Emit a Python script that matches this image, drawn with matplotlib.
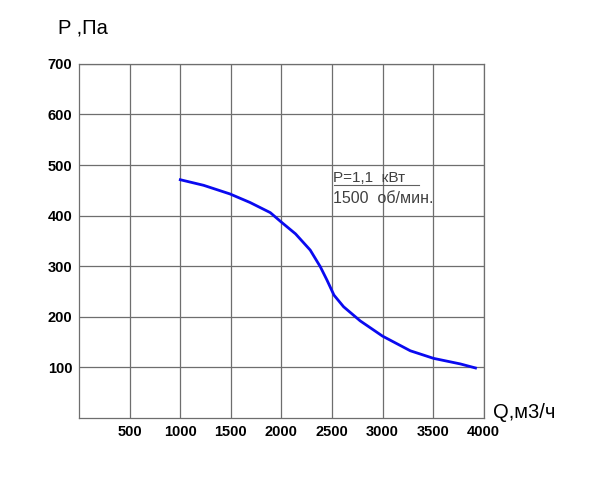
import matplotlib
matplotlib.use("Agg")
import matplotlib.pyplot as plt

# fan curve
q = [1000, 1230, 1490, 1690, 1890, 1995, 2140, 2285, 2385, 2450, 2520, 2615, 2780, 3000, 3275, 3505, 3770, 3920]
p = [471, 460, 443, 426, 406, 388, 364, 332, 299, 273, 243, 220, 192, 162, 133, 118, 107, 99]

xticks = [500, 1000, 1500, 2000, 2500, 3000, 3500, 4000]
yticks = [100, 200, 300, 400, 500, 600, 700]

plt.rcParams['font.family'] = ['Liberation Sans', 'DejaVu Sans']

fig = plt.figure(figsize=(6, 4.8), dpi=100)
ax = fig.add_axes([0.132, 0.129, 0.674, 0.738])

ax.plot(q, p, color="#0a0af0", lw=2, solid_joinstyle="round")

ax.set_xlim(0, 4000)
ax.set_ylim(0, 700)
ax.set_xticks(xticks)
ax.set_yticks(yticks)
ax.grid(True, color="#6e6e6e", lw=0.9)
for s in ax.spines.values():
    s.set_color("#6e6e6e")
    s.set_linewidth(0.9)
ax.tick_params(length=0, labelsize=10.5, pad=5)
for lab in ax.get_xticklabels() + ax.get_yticklabels():
    lab.set_fontweight("bold")

fig.text(0.097, 0.942, "P ,Па", fontsize=14.5, ha="left", va="center")
fig.text(0.822, 0.14, "Q,м3/ч", fontsize=14.5, ha="left", va="center")

ax.text(2510, 475, "P=1,1  кВт", fontsize=11, color="#404040", va="center")
ax.plot([2520, 3360], [460, 460], color="#606060", lw=0.8)
ax.text(2510, 434, "1500  об/мин.", fontsize=11.5, color="#404040", va="center")

fig.savefig("out.png", dpi=100)
